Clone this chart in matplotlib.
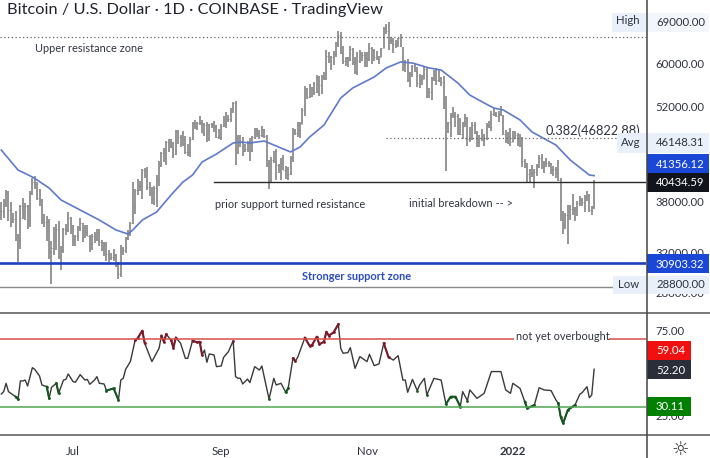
import numpy as np
import pandas as pd
import matplotlib
matplotlib.use("Agg")
import matplotlib.pyplot as plt
from matplotlib.patches import Rectangle
from matplotlib.lines import Line2D

plt.rcParams['font.family'] = ['Lato', 'DejaVu Sans']

W, H = 710, 458
TXT = '#2f333d'

# daily BTCUSD bars, 1 Jun 2021 - 4 Feb 2022
highs = [37900,38200,39400,39300,37900,36500,36800,34050,37500,38400,37700,37450,39300,41000,41300,40500,39500,38200,36400,36100,35750,33300,34800,35200,35500,32700,34700,35200,36600,36000,
         35050,33950,34950,35950,35300,35100,35050,33900,34100,34250,34600,34650,33350,33100,33200,32250,31950,32400,31900,31050,32850,32600,33650,34500,35400,40550,39550,40900,40600,42300,42400,
         42600,40450,39800,39950,41400,43400,44700,45350,46450,46700,46750,46200,48150,48150,47400,48050,47150,46000,47000,49400,49800,49500,50500,49850,49300,49400,49200,49300,49650,49000,48250,
         49100,50400,51050,50550,51900,52800,52950,47350,47400,47100,45950,46450,46850,47250,48500,48500,48150,48800,48350,47300,43600,44000,44950,45150,42950,43900,44300,42750,42550,44100,
         48450,48300,49500,49500,51900,55750,55350,56100,55500,56500,57800,57700,57800,58500,62900,62400,61700,62650,64500,67000,66650,63700,61500,61500,63700,63300,61500,62500,62950,62400,62450,
         62400,64300,63550,63100,62600,61600,63300,67800,68500,69000,65600,65450,65000,65500,66300,63500,60800,60950,58350,59850,60000,59500,58000,57800,59400,59200,55300,57450,58850,59200,
         59050,57400,57600,53850,49500,50900,51950,51200,50800,50100,49500,50800,50200,48700,49500,49450,48000,47300,48300,47550,49350,49550,51350,51850,51150,51300,52100,50700,48150,47850,48500,
         47950,47950,47600,47500,47050,43750,43150,42300,42800,42250,43000,44300,44450,43450,43800,43450,43200,42700,42600,43500,41100,36800,36550,37550,37550,38900,37200,38000,38700,38400,38750,
         39250,38900,37400,40800]
lows = [35700,35900,37200,35600,34800,35300,33300,31000,32400,35800,35700,34600,34800,38800,39500,38100,37400,35200,34800,33300,31300,28800,31700,32300,31300,30200,32000,33900,34250,34000,
        32700,32700,33300,34400,33150,33550,33800,32100,32250,33000,33300,32700,32200,31600,31150,31050,31200,31100,30450,29300,29500,31700,31950,33400,33850,35250,36400,38800,39300,38300,41000,
        39450,38700,37600,37500,37300,39900,42500,43300,42800,44700,45400,43800,44250,45950,45500,45700,44400,44200,43950,46650,48300,48100,49000,47600,47150,46300,46400,48400,47800,46900,46700,
        46550,48650,48400,49500,49500,50950,42900,44400,45550,44200,44800,44750,43400,44700,46700,47050,46800,47050,46850,42500,39600,40500,43100,40700,41700,40750,42100,40900,40750,41400,
        43300,47400,47100,46900,49050,50400,53400,53650,53700,54100,54450,53900,54300,56850,56850,60200,58900,59900,61350,63500,62000,60000,59700,59500,60700,59850,58100,57800,60200,60700,59500,
        59500,60600,60100,60700,60750,60100,61350,63300,66300,62800,64100,62300,63350,63600,63500,58600,58400,56500,55600,57450,58500,55600,55300,55900,57000,53500,53650,53300,56700,55900,
        56500,55800,51700,42000,47700,47100,50050,48600,47300,47300,46800,48650,45700,46300,46550,47550,45500,45550,46400,45600,46650,48450,47950,50450,50200,49450,50450,47300,46100,45900,45700,
        46200,46700,45700,45500,42500,42450,40550,40500,41200,39650,41250,42450,42300,41700,42550,42600,41550,41250,41100,40600,35500,34000,34600,32950,35700,36250,35500,36200,37350,37350,36650,
        38000,36600,36250,37050]
closes = [36700,37600,39200,36850,35500,35800,33550,33400,37400,36700,37330,35550,39020,40520,40160,38340,38100,35820,35480,35600,31680,32500,33680,34660,31590,32270,34650,34480,35900,35040,
          33530,33800,34700,35290,33700,34230,33860,32880,33800,33500,34250,33100,32700,32820,31880,31380,31520,31780,30830,29790,32140,32290,33620,34260,35300,37320,39450,40000,40000,42200,41450,
          39850,39150,38200,39730,40880,42830,44600,43800,46280,45600,45560,44400,47810,47100,47050,46000,44800,44700,46760,49320,48860,49300,49500,47700,48990,46850,49070,48900,48800,46990,47100,
          48850,49280,49950,49920,51800,52680,46860,46080,46400,44850,45150,46060,44950,47100,48150,47750,47300,48300,47250,43000,40700,43550,44880,42840,42700,43170,42170,41030,41520,43790,
          48150,47650,48200,49200,51500,55350,53800,53950,54950,54700,57500,56000,57400,57350,61700,60900,61500,62050,64300,66000,62200,60700,61300,60850,63100,60350,58450,60600,62250,61900,61300,
          60950,63250,62950,61450,61000,61500,63300,67550,66950,64900,64800,64150,64400,65500,63600,60100,60350,56900,58100,59700,58700,56300,57550,57150,58950,53700,54700,57300,57800,56950,
          57200,56500,53650,49200,49400,50550,50600,50500,47700,47450,49350,50100,46700,48350,48900,47650,46200,46850,46700,46900,49000,48600,50800,50800,50400,50800,50700,47550,46450,47150,46200,
          47750,47300,46450,45800,43450,43100,41550,41700,41850,41850,42750,43900,42550,43100,43100,43100,42200,42350,41700,40700,36450,35050,36300,36650,36950,36850,37150,37700,38150,37900,38500,
          38700,36900,37300,40434.59]

ma_days = [0,7,13,15,20,25,33,41,48,53,55,59,65,71,76,80,84,90,97,100,104,110,114,121,125,129,135,142,147,156,161,167,172,179,184,191,196,202,206,210,217,222,232,238,246,248]
ma_vals = [45040,42140,41170,40760,39680,38130,36880,35670,34500,34040,34500,35670,36640,38770,40490,41440,43280,44450,46110,46260,46110,46420,45800,44750,45500,47040,48960,53570,55390,57460,59210,60400,60200,59210,58810,56320,54100,52690,51820,51470,49790,47840,45800,43570,41440,41356]

# RSI pane
rsi_days = [0,1,2,3,6,7,8,9,10,11,13,14,16,17,19,20,21,23,24,26,27,28,30,31,33,35,36,37,39,40,41,43,44,47,49,50,51,52,54,56,57,59,60,63,66,67,68,69,71,72,73,75,77,78,80,82,83,84,85,86,87,89,90,92,93,95,97,98,99,
            100,101,103,104,106,108,109,112,114,115,117,119,120,122,123,124,127,129,130,132,133,135,136,137,139,141,142,143,145,146,148,150,153,154,156,158,160,162,164,166,168,169,170,172,174,175,177,178,181,184,186,188,190,192,193,195,
            196,199,202,205,209,211,213,214,217,219,220,223,225,227,230,232,233,234,235,237,240,242,243,245,246,247,248]
rsi_vals = [37.6,39.0,43.9,39.0,36.0,34.5,45.3,45.3,45.8,42.3,53.1,52.1,48.2,42.9,41.9,35.0,41.5,43.9,38.0,45.8,46.2,49.4,44.9,44.5,49.0,45.8,46.2,43.3,45.8,47.8,43.9,43.5,39.6,40.9,34.1,45.8,46.8,52.1,56.7,69.4,70.4,74.9,67.5,56.7,64.5,72.0,68.4,72.8,69.4,64.9,70.8,67.5,58.6,58.6,69.0,68.0,68.4,60.6,63.5,56.3,61.2,60.6,53.7,54.1,59.2,62.5,69.0,47.8,46.9,
            46.8,43.5,46.4,44.3,53.7,51.7,54.1,34.6,46.8,42.9,43.9,38.6,40.9,58.6,57.0,59.2,70.8,65.9,66.5,71.4,66.9,68.4,74.3,72.0,73.9,78.7,64.5,61.6,62.0,64.9,52.7,59.6,56.7,61.0,54.3,55.3,67.5,59.2,57.6,60.2,45.8,45.8,38.6,46.2,39.6,42.9,46.8,37.0,46.8,45.8,31.7,36.0,36.0,30.1,39.0,33.7,
            40.0,35.0,38.0,50.8,50.8,40.0,38.0,43.9,40.9,33.1,29.1,31.1,41.3,40.0,39.6,34.1,32.1,24.2,20.3,28.2,31.1,37.4,38.4,41.9,35.4,37.0,52.2]
red_spans = [(56,60),(67,69),(71,73),(80,84),(97,97),(122,123),(127,141),(160,162)]
green_spans = [(6,7),(19,20),(23,24),(44,49),(112,112),(119,120),(174,174),(178,178),(186,192),(195,195),(219,223),(233,240)]

price_ticks = [60000,52000,38000,32000,28000]
month_ticks = ['2021-07-01','2021-09-01','2021-11-01','2022-01-01']
month_labels = ['Jul','Sep','Nov','2022']

dates = pd.date_range('2021-06-01', periods=len(highs), freq='D')
highs = np.array(highs)
lows = np.array(lows)
closes = np.array(closes)
opens = np.concatenate([closes[:1], closes[:-1]])
rsi_days = np.array(rsi_days)
rsi_vals = np.array(rsi_vals)

fig = plt.figure(figsize=(W / 100, H / 100), dpi=100, facecolor='white')
ax = fig.add_axes([0, 1 - 313 / H, 646 / W, 313 / H])
ax2 = fig.add_axes([0, 1 - 435 / H, 646 / W, 122 / H], sharex=ax)

# --- price pane ---
ax.vlines(dates, lows, highs, color='#7d7d7d', lw=1.15)
tick = pd.Timedelta(hours=10)
ax.hlines(opens, dates - tick, dates, color='#8a8a8a', lw=0.6)
ax.hlines(closes, dates, dates + tick, color='#8a8a8a', lw=0.6)
ax.plot(dates[ma_days], ma_vals, color='#5f7aca', lw=1.2)

ax.axhline(65650, color='#666666', lw=0.9, ls=(0, (1, 2)))
ax.plot([dates[161], dates[-1] + pd.Timedelta(days=25)], [46822.88, 46822.88], color='#666666', lw=0.9, ls=(0, (1, 2)))
ax.plot([dates[89], dates[-1] + pd.Timedelta(days=25)], [40434.59, 40434.59], color='#2a2a2a', lw=1.0)
ax.axhline(30903.32, color='#1c3fc4', lw=1.9)
ax.axhline(28500, color='#8a8a8a', lw=1)

ax.set_yscale('log')
ax.set_ylim(60000 * np.exp(-249 / 300), 60000 * np.exp(64 / 300))
ax.set_xlim(dates[0] - pd.Timedelta(hours=13), dates[0] + pd.Timedelta(days=269.7))
ax.yaxis.tick_right()
ax.minorticks_off()
ax.set_yticks(price_ticks)
ax.set_yticklabels([f'{p}.00' for p in price_ticks], fontsize=8.2, color=TXT)
ax.tick_params(axis='y', length=0, pad=7)
ax.tick_params(axis='x', length=0, labelbottom=False)
for s in ax.spines.values():
    s.set_visible(False)

# --- RSI pane ---
ax2.plot(dates[rsi_days], rsi_vals, color='#3a3a3a', lw=1.0)
for a, b in red_spans:
    m = (rsi_days >= a) & (rsi_days <= b)
    ax2.plot(dates[rsi_days[m]], rsi_vals[m], color='#7d1a2a', lw=1.5, marker='o', ms=1.0)
for a, b in green_spans:
    m = (rsi_days >= a) & (rsi_days <= b)
    ax2.plot(dates[rsi_days[m]], rsi_vals[m], color='#14571f', lw=1.5, marker='o', ms=1.0)
ax2.axhline(70, color='#d9504a', lw=1.1)
ax2.axhline(30.11, color='#4fa552', lw=1.1)
ax2.set_ylim(70 - 96 / 1.697, 70 + 26 / 1.697)
ax2.yaxis.tick_right()
ax2.set_yticks([75, 25])
ax2.set_yticklabels(['75.00', '25.00'], fontsize=8.2, color=TXT)
ax2.tick_params(axis='y', length=0, pad=7)
ax2.set_xticks(pd.to_datetime(month_ticks))
ax2.set_xticklabels(month_labels, fontsize=8.2, color=TXT)
ax2.get_xticklabels()[-1].set_fontweight('bold')
ax2.tick_params(axis='x', length=0, pad=8)
for s in ax2.spines.values():
    s.set_visible(False)


def px_box(x0, y0, x1, y1, color):
    fig.add_artist(Rectangle((x0 / W, 1 - y1 / H), (x1 - x0) / W, (y1 - y0) / H,
                             transform=fig.transFigure, fc=color, ec='none'))


def px_text(x, y, s, size=7.9, color=TXT, ha='left', **kw):
    fig.text(x / W, 1 - y / H, s, fontsize=size, color=color, ha=ha, va='center', **kw)


# pane borders
for y in [312.7, 435]:
    fig.add_artist(Line2D([0, 1], [1 - y / H] * 2, color='#555555', lw=1.1))
fig.add_artist(Line2D([646.5 / W] * 2, [0, 1], color='#444444', lw=1.1))

# labels that sit behind the price boxes
px_text(546, 131, '0.382(46822.88)', size=9.2, zorder=0.5)

LIGHT = '#e9f0fa'
px_box(612, 13, 645.5, 32, LIGHT)
px_box(647, 13, 709, 32, '#f3f7fc')
px_box(617, 133, 645.5, 153, LIGHT)
px_box(647, 133, 709, 153, LIGHT)
px_box(613, 276, 645.5, 294, LIGHT)
px_box(647, 276, 709, 294, LIGHT)
px_box(647, 154, 709, 173, '#1a47d6')
px_box(647, 173, 709, 192, '#12141c')
px_box(647, 254, 709, 273, '#1a47d6')
px_box(647, 341, 691, 360, '#f01010')
px_box(647, 360, 691, 379, '#2a2e39')
px_box(647, 397, 691, 416, '#008000')
px_box(514, 330, 609, 345, 'white')

px_text(616, 21, 'High', size=8.2)
px_text(656, 22, '69000.00', size=8.2)
px_text(621, 143, 'Avg', size=8.2)
px_text(656, 143, '46148.31', size=8.2)
px_text(618, 285, 'Low', size=8.2)
px_text(656, 285, '28800.00', size=8.2)
px_text(656, 164, '41356.12', size=8.2, color='white')
px_text(656, 183, '40434.59', size=8.2, color='white')
px_text(656, 264, '30903.32', size=8.2, color='white')
px_text(656, 351, '59.04', size=8.2, color='white')
px_text(656, 370, '52.20', size=8.2, color='white')
px_text(656, 407, '30.11', size=8.2, color='white')

px_text(7, 10, 'Bitcoin / U.S. Dollar · 1D · COINBASE · TradingView', size=11.8, color='#20232c')
px_text(35, 49, 'Upper resistance zone')
px_text(215, 205, 'prior support turned resistance')
px_text(409, 204, 'initial breakdown -- >')
px_text(302, 276, 'Stronger support zone', color='#2b4cc0', fontweight='bold')
px_text(516, 337, 'not yet overbought')
px_text(680, 449, '☼', size=14, color='#333333', ha='center', family='DejaVu Sans')

fig.savefig('out.png', dpi=100)
